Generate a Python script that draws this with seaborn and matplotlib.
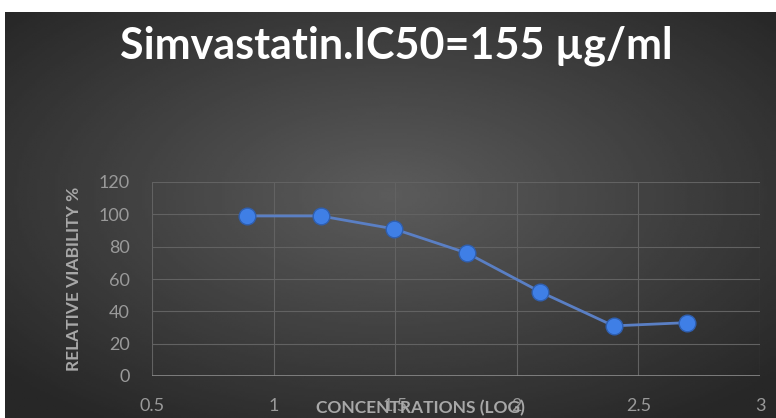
import numpy as np
import pandas as pd
import seaborn as sns
import matplotlib.pyplot as plt

# data
log_conc = [0.892, 1.193, 1.495, 1.796, 2.097, 2.398, 2.699]
viability = [99, 99, 91, 76, 52, 31, 33]
x_ticks = [0.5, 1, 1.5, 2, 2.5, 3]
y_ticks = [0, 20, 40, 60, 80, 100, 120]

df = pd.DataFrame({'conc': log_conc, 'viab': viability})

sns.set_theme(style='dark')
plt.rcParams['font.family'] = ['Lato', 'DejaVu Sans']

fig = plt.figure(figsize=(7.76, 4.18), dpi=100)
fig.patch.set_facecolor('white')

# dark radial gradient background, white strip top and left
bg = fig.add_axes([5 / 776, 0, 771 / 776, 1 - 12 / 418])
yy, xx = np.mgrid[-1:1:200j, -1:1:300j]
r = np.sqrt((xx * 0.9) ** 2 + ((yy + 0.1) * 0.9) ** 2)
bg.imshow(0.36 - 0.17 * np.clip(r, 0, 1.2), cmap='gray', vmin=0, vmax=1,
          aspect='auto', extent=[0, 1, 0, 1])
bg.set_axis_off()

ax = fig.add_axes([152 / 776, 1 - 376 / 418, 608 / 776, 194 / 418])
ax.set_facecolor('none')
sns.lineplot(data=df, x='conc', y='viab', ax=ax, color='#5a7fc4', linewidth=2,
             marker='o', markersize=12, markerfacecolor='#3f7fe6',
             markeredgecolor='#2f5fb0', markeredgewidth=1)

ax.set_xlim(0.5, 3)
ax.set_ylim(0, 120)
ax.set_xticks(x_ticks)
ax.set_xticklabels(['0.5', '1', '1.5', '2', '2.5', '3'])
ax.set_yticks(y_ticks)
ax.grid(True, color='#626262', linewidth=0.8)
for s in ax.spines.values():
    s.set_visible(False)
ax.axhline(0, color='#8a8a8a', linewidth=1.2)
ax.tick_params(axis='both', colors='#9a9a9a', labelsize=13, length=0)
ax.tick_params(axis='x', pad=16)
ax.tick_params(axis='y', pad=16)
ax.set_xlabel('')
ax.set_ylabel('RELATIVE VIABILITY %', color='#a8a8a8', fontsize=12.5,
              fontweight='bold', labelpad=12)

# axis title sits on top of the tick labels, as in the source
fig.text(420 / 776, 1 - 408 / 418, 'CONCENTRATIONS (LOG)', color='#a8a8a8',
         fontsize=12.5, fontweight='bold', ha='center', va='center')

fig.text(396 / 776, 1 - 46 / 418, 'Simvastatin.IC50=155 µg/ml', color='white',
         fontsize=31, fontweight='bold', ha='center', va='center')

fig.savefig('out.png', dpi=100)
